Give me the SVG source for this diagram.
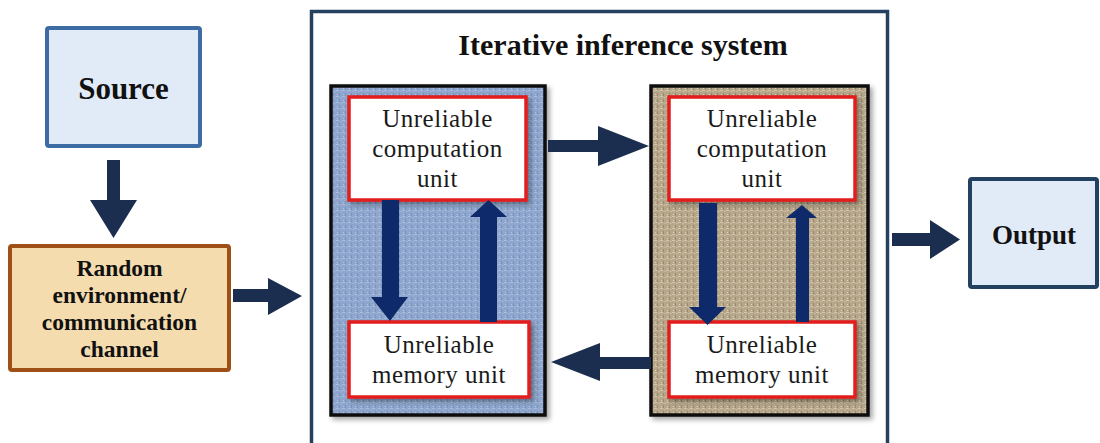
<svg xmlns="http://www.w3.org/2000/svg" width="1100" height="443" viewBox="0 0 1100 443">
<style>
.bold{font-family:"Liberation Serif","Times New Roman",serif;font-weight:bold;fill:#111;text-anchor:middle}
.unit{font-family:"Liberation Serif","Times New Roman",serif;font-size:25px;fill:#1a1a1a;text-anchor:middle;letter-spacing:0.5px}
.arr{fill:#1c2e4f}
.iarr{fill:#0f2a6b}
.ubox{fill:#ffffff;stroke:#e31b1b;stroke-width:3.5}
.panel{stroke:#111;stroke-width:3.5}
</style>
<defs>
<pattern id="texBlue" width="6" height="6" patternUnits="userSpaceOnUse">
<rect width="6" height="6" fill="#8ea6cd"/>
<rect x="0" y="0" width="3" height="1" fill="#a9bddc"/>
<rect x="3" y="3" width="1" height="3" fill="#7a93bd"/>
<rect x="4" y="1" width="2" height="1" fill="#9bb0d4"/>
<rect x="1" y="4" width="1" height="1" fill="#b3c4e0"/>
</pattern>
<pattern id="texTan" width="6" height="6" patternUnits="userSpaceOnUse">
<rect width="6" height="6" fill="#b6a78b"/>
<rect x="0" y="0" width="3" height="1" fill="#d2c7ae"/>
<rect x="3" y="3" width="1" height="3" fill="#998a6f"/>
<rect x="4" y="1" width="2" height="1" fill="#c6b99d"/>
<rect x="1" y="4" width="1" height="1" fill="#ddd3bd"/>
</pattern>
<filter id="sh" x="-10%" y="-10%" width="130%" height="130%">
<feDropShadow dx="3" dy="3" stdDeviation="2.5" flood-color="#000" flood-opacity="0.35"/>
</filter>
</defs>

<g id="source">
<rect x="47" y="28" width="153" height="118" fill="#e1ebf7" stroke="#3d6ca5" stroke-width="4" rx="2"/>
<text class="bold" x="123.5" y="99" font-size="31">Source</text>
</g>

<g id="channel">
<rect x="10" y="246" width="219" height="124" fill="#f4dcaf" stroke="#9e5017" stroke-width="4" rx="2"/>
<text class="bold" x="119.5" y="276" font-size="23.5">Random</text>
<text class="bold" x="119.5" y="303" font-size="23.5">environment/</text>
<text class="bold" x="119.5" y="330" font-size="23.5">communication</text>
<text class="bold" x="119.5" y="357" font-size="23.5">channel</text>
</g>

<g id="system">
<rect x="311.5" y="11.5" width="576" height="445" fill="#ffffff" stroke="#24415f" stroke-width="3.5"/>
<text class="bold" x="623" y="55" font-size="30">Iterative inference system</text>
</g>

<g id="panel-left">
<rect class="panel" x="331" y="86" width="214" height="329" fill="url(#texBlue)" filter="url(#sh)"/>
</g>
<g id="panel-right">
<rect class="panel" x="651" y="86" width="217" height="329" fill="url(#texTan)" filter="url(#sh)"/>
</g>

<g id="comp-left">
<rect class="ubox" x="349" y="97" width="177" height="103" filter="url(#sh)"/>
<text class="unit" x="437.5" y="127">Unreliable</text>
<text class="unit" x="437.5" y="157">computation</text>
<text class="unit" x="437.5" y="187">unit</text>
</g>
<g id="mem-left">
<rect class="ubox" x="349" y="322" width="180" height="75" filter="url(#sh)"/>
<text class="unit" x="439" y="353">Unreliable</text>
<text class="unit" x="439" y="383">memory unit</text>
</g>
<g id="comp-right">
<rect class="ubox" x="669" y="97" width="186" height="103" filter="url(#sh)"/>
<text class="unit" x="762" y="127">Unreliable</text>
<text class="unit" x="762" y="157">computation</text>
<text class="unit" x="762" y="187">unit</text>
</g>
<g id="mem-right">
<rect class="ubox" x="669" y="322" width="186" height="75" filter="url(#sh)"/>
<text class="unit" x="762" y="353">Unreliable</text>
<text class="unit" x="762" y="383">memory unit</text>
</g>

<g id="output">
<rect x="970" y="179" width="127" height="108" fill="#e1ebf7" stroke="#22405f" stroke-width="4" rx="2"/>
<text class="bold" x="1034" y="244" font-size="27">Output</text>
</g>

<g id="connectors">
<polygon class="arr" points="107,160 120,160 120,200 137,200 113.5,238 90,200 107,200"/>
<polygon class="arr" points="233,289 268,289 268,278 302,296 268,315 268,302 233,302"/>
<polygon class="arr" points="892,233 930,233 930,220 960,239.5 930,259 930,246 892,246"/>
<polygon class="arr" points="548,140 598,140 598,126 649,146 598,166 598,152 548,152"/>
<polygon class="arr" points="651,357 600,357 600,343 551,362 600,381 600,369 651,369"/>
<polygon class="iarr" points="382,200 399,200 399,297 408,297 390,321 371,297 382,297"/>
<polygon class="iarr" points="480,322 497,322 497,217 507,217 488.5,200 470,217 480,217"/>
<polygon class="iarr" points="699,203 717,203 717,307 726,307 707.5,325 689,307 699,307"/>
<polygon class="iarr" points="796,322 809,322 809,218 817,218 802,205 786,218 796,218"/>
</g>
</svg>
